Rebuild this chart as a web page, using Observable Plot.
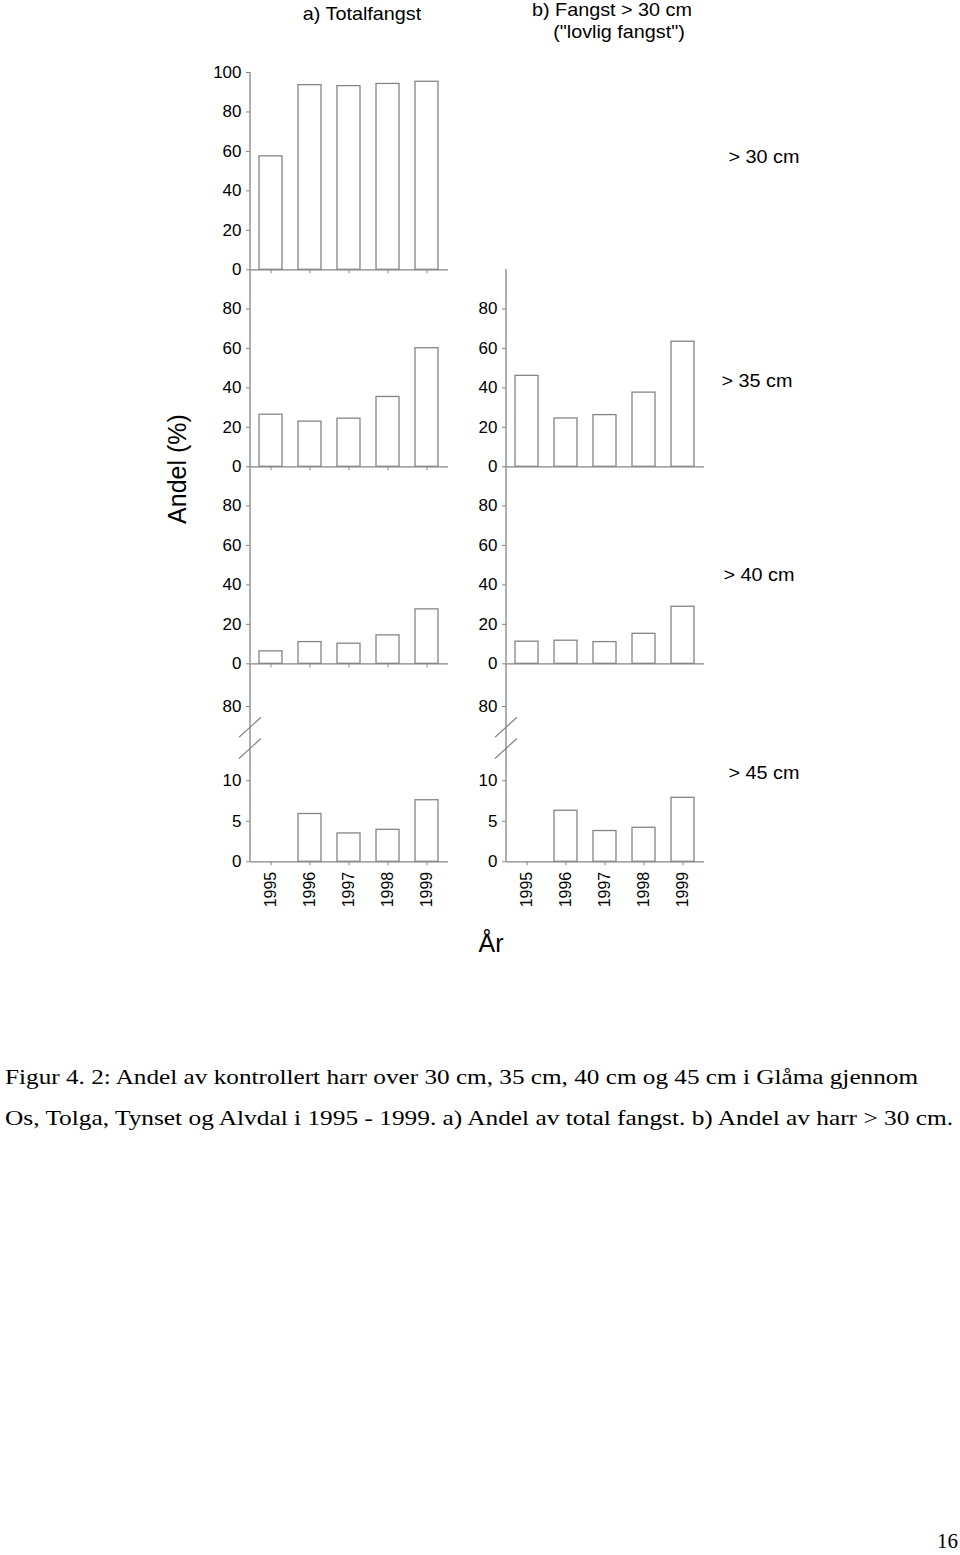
<!DOCTYPE html>
<html><head><meta charset="utf-8">
<script src="https://cdn.jsdelivr.net/npm/d3@7"></script>
<script src="https://cdn.jsdelivr.net/npm/@observablehq/plot@0.6"></script>
<style>
html,body{margin:0;padding:0;background:#fff;}
#page{position:relative;width:960px;height:1555px;overflow:hidden;background:#fff;font-family:"Liberation Sans",Arial,sans-serif;}
#overlay{position:absolute;left:0;top:0;}
</style></head><body>
<div id="page"><svg id="overlay" width="960" height="1555"></svg></div>
<script>
// ---- data ----
const years = ["1995", "1996", "1997", "1998", "1999"];
const total30 = [57.5, 93.6, 93.1, 94.2, 95.3];
const total35 = [26.4, 22.9, 24.4, 35.4, 60.1];
const legal35 = [46.1, 24.5, 26.2, 37.6, 63.4];
const total40 = [6.3, 11.0, 10.2, 14.4, 27.6];
const legal40 = [11.2, 11.7, 11.0, 15.2, 28.9];
const total45 = [0, 5.9, 3.5, 3.95, 7.6];
const legal45 = [0, 6.3, 3.8, 4.2, 7.9];
const ticksTop = [0, 20, 40, 60, 80, 100];
const ticksMid = [0, 20, 40, 60, 80];
const ticksBreak = [0, 5, 10, 80];
const breakDomain = [0, 10, 80, 100];
const breakMarks = [40, 60];
const rowLabels = ["> 30 cm", "> 35 cm", "> 40 cm", "> 45 cm"];

const gray = "#858585";
const page = document.getElementById("page");
const H = 197.3;
// broken axis: piecewise mapping of values onto a linear pixel-like span
const brk = d3.scaleLinear().domain(breakDomain).range([0, 81, 155.3, H]);

function panel(vals, o) {
  const data = years.map((y, i) => ({year: y, value: vals[i]}));
  const mt = 12, ml = 50, mr = 12, w = 260;
  const mb = o.labels ? 62 : 12;
  const tf = o.broken ? (v => brk(v)) : (v => v);
  const yopt = o.broken ? {domain: [0, H], transform: tf} : {domain: [0, 100]};
  const marks = [
    Plot.ruleY([0], {stroke: gray, strokeWidth: 1.3}),
    Plot.barY(data, {x: "year", y: "value", fill: "white", stroke: gray, strokeWidth: 1.3}),
    Plot.axisY(o.ticks, {tickSize: 4, tickPadding: 5, stroke: gray, fill: "#000", fontSize: 17})
  ];
  if (o.xticks) {
    marks.push(Plot.axisX({
      tickSize: 4, tickPadding: 6, stroke: gray, fill: "#000", fontSize: 16,
      tickRotate: o.labels ? -90 : 0,
      tickFormat: o.labels ? (d => d) : (() => "")
    }));
  }
  const plot = Plot.plot({
    width: w, height: mt + H + mb,
    marginTop: mt, marginBottom: mb, marginLeft: ml, marginRight: mr,
    style: {background: "transparent", overflow: "visible", fontFamily: "Liberation Sans, Arial, sans-serif", color: "#000"},
    x: {domain: years, paddingInner: 0.4, paddingOuter: 0.2, axis: null, label: null},
    y: {...yopt, axis: null, label: null},
    marks
  });
  const ys = plot.scale("y");
  const py = v => ys.apply(o.broken ? brk(v) : v);
  const svg = d3.select(plot);
  svg.append("line")
    .attr("x1", ml).attr("x2", ml)
    .attr("y1", py(0)).attr("y2", py(100))
    .attr("stroke", gray).attr("stroke-width", 1.3);
  if (o.broken) {
    for (const v of breakMarks) {
      const y0 = py(v);
      svg.append("line")
        .attr("x1", ml - 11).attr("y1", y0 + 10)
        .attr("x2", ml + 11).attr("y2", y0 - 10)
        .attr("stroke", gray).attr("stroke-width", 1.2);
    }
  }
  plot.style.position = "absolute";
  plot.style.left = o.left + "px";
  plot.style.top = (o.zero - H - mt) + "px";
  page.appendChild(plot);
}

const L = 200, R = 456;
panel(total30, {left: L, zero: 269, ticks: ticksTop, xticks: true});
panel(total35, {left: L, zero: 466.3, ticks: ticksMid, xticks: true});
panel(legal35, {left: R, zero: 466.3, ticks: ticksMid, xticks: false});
panel(total40, {left: L, zero: 663.3, ticks: ticksMid, xticks: true});
panel(legal40, {left: R, zero: 663.3, ticks: ticksMid, xticks: false});
panel(total45, {left: L, zero: 861, ticks: ticksBreak, xticks: true, labels: true, broken: true});
panel(legal45, {left: R, zero: 861, ticks: ticksBreak, xticks: true, labels: true, broken: true});

// ---- text ----
const ov = d3.select("#overlay");
page.appendChild(document.getElementById("overlay"));
function txt(s, x, y, opt = {}) {
  const t = ov.append("text").text(s)
    .attr("transform", `translate(${x},${y})` + (opt.rot ? ` rotate(${opt.rot})` : "") + (opt.sx ? ` scale(${opt.sx},1)` : ""))
    .attr("text-anchor", opt.anchor || "start")
    .attr("font-size", opt.size || 18)
    .attr("font-family", opt.family || "Liberation Sans, Arial, sans-serif")
    .attr("fill", "#000");
  if (opt.len) t.attr("textLength", opt.len).attr("lengthAdjust", "spacingAndGlyphs");
  return t;
}
txt("a) Totalfangst", 362, 20, {anchor: "middle", size: 18, sx: 1.1});
txt("b) Fangst > 30 cm", 612, 16, {anchor: "middle", size: 18, sx: 1.1});
txt("(\"lovlig fangst\")", 619, 38, {anchor: "middle", size: 18, sx: 1.1});
txt(rowLabels[0], 764, 163, {anchor: "middle", size: 18, sx: 1.1});
txt(rowLabels[1], 757, 387, {anchor: "middle", size: 18, sx: 1.1});
txt(rowLabels[2], 759, 581, {anchor: "middle", size: 18, sx: 1.1});
txt(rowLabels[3], 764, 779, {anchor: "middle", size: 18, sx: 1.1});
txt("Andel (%)", 186, 469, {anchor: "middle", size: 25, rot: -90});
txt("År", 491, 952, {anchor: "middle", size: 25});
const serif = "Liberation Serif, Times New Roman, serif";
txt("Figur 4. 2: Andel av kontrollert harr over 30 cm, 35 cm, 40 cm og 45 cm i Glåma gjennom", 5, 1084, {size: 22, family: serif, len: 913});
txt("Os, Tolga, Tynset og Alvdal i 1995 - 1999. a) Andel av total fangst. b) Andel av harr > 30 cm.", 5, 1125, {size: 22, family: serif, len: 948});
txt("16", 958, 1548, {anchor: "end", size: 21, family: serif});
</script>
</body></html>
